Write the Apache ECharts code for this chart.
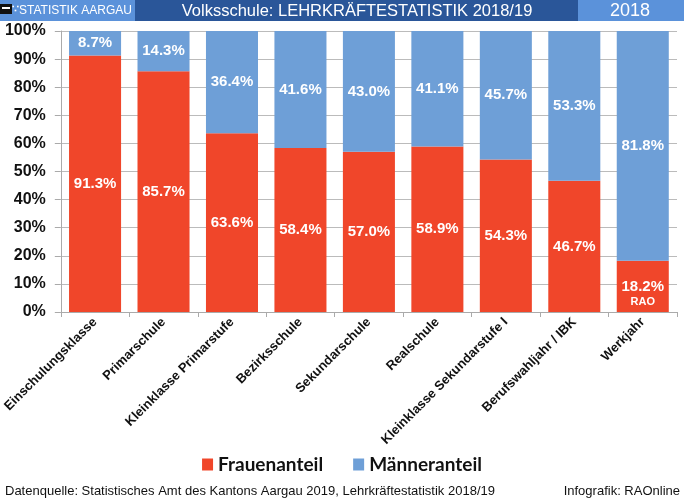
<!DOCTYPE html>
<html><head><meta charset="utf-8">
<script src="https://cdn.jsdelivr.net/npm/echarts@6/dist/echarts.min.js"></script>
<style>html,body{margin:0;padding:0;background:#fff}#c{width:684px;height:503px}</style>
</head><body><div id="c"></div>
<script>
const categories = ['Einschulungsklasse','Primarschule','Kleinklasse Primarstufe','Bezirksschule','Sekundarschule','Realschule','Kleinklasse Sekundarstufe I','Berufswahljahr / IBK','Werkjahr'];
const frauen = [91.3, 85.7, 63.6, 58.4, 57.0, 58.9, 54.3, 46.7, 18.2];
const maenner = [8.7, 14.3, 36.4, 41.6, 43.0, 41.1, 45.7, 53.3, 81.8];
const yTicks = [0,10,20,30,40,50,60,70,80,90,100];

const RED = '#F0462A', BLUE = '#6E9FD7';
const lbl = {show:true, position:'inside', color:'#fff', fontFamily:'Liberation Sans, Arial', fontWeight:'bold', fontSize:15, formatter: p => p.value.toFixed(1) + '%'};

const frauenData = frauen.map((v,i) => i === frauen.length-1 ? {
  value: v,
  label: {lineHeight:17,
    formatter: p => '{e| }\n' + p.value.toFixed(1) + '%\n{r|RAO}',
    rich: {
      e:{fontSize:11, lineHeight:15},
      r:{fontSize:11, fontWeight:'bold', color:'#fff', fontFamily:'Liberation Sans, Arial', lineHeight:15}}}
} : v);

const chart = echarts.init(document.getElementById('c'), null, {renderer:'canvas'});
chart.setOption({
  animation:false,
  grid:{left:60, right:7, top:31, bottom:191},
  graphic:[
    {type:'rect', shape:{x:0,y:0,width:684,height:21}, style:{fill:'#2A5699'}},
    {type:'rect', shape:{x:0,y:0,width:135,height:21}, style:{fill:'#5B92DA'}},
    {type:'rect', shape:{x:578,y:0,width:106,height:21}, style:{fill:'#5B92DA'}},
    {type:'rect', shape:{x:0,y:4,width:12,height:10}, style:{fill:'#111'}},
    {type:'rect', shape:{x:2,y:7,width:8,height:2}, style:{fill:'#fff'}},
    {type:'text', style:{text:'∵', x:12, y:10, verticalAlign:'middle', fill:'#fff', font:'bold 11px Liberation Sans'}},
    {type:'text', style:{text:'STATISTIK AARGAU', x:19, y:11, verticalAlign:'middle', fill:'#fff', font:'12px Liberation Sans'}},
    {type:'text', style:{text:'Volksschule: LEHRKRÄFTESTATISTIK 2018/19', x:357, y:11, align:'center', verticalAlign:'middle', fill:'#fff', font:'16.5px Liberation Sans'}},
    {type:'text', style:{text:'2018', x:630, y:11, align:'center', verticalAlign:'middle', fill:'#fff', font:'18px Liberation Sans'}},
    {type:'text', style:{text:'Datenquelle: Statistisches Amt des Kantons Aargau 2019, Lehrkräftestatistik 2018/19', x:5, y:491, verticalAlign:'middle', fill:'#111', font:'13px Liberation Sans'}},
    {type:'text', style:{text:'Infografik: RAOnline', x:680, y:491, align:'right', verticalAlign:'middle', fill:'#111', font:'13px Liberation Sans'}}
  ],
  legend:{
    data:['Frauenanteil','Männeranteil'], bottom:24, left:'center', itemWidth:11, itemHeight:12, itemGap:30,
    icon:'rect',
    textStyle:{fontFamily:'Lato, Open Sans, sans-serif', fontWeight:'bold', fontSize:19, color:'#111'}
  },
  xAxis:{
    type:'category', data:categories,
    axisLine:{lineStyle:{color:'#aaa'}},
    axisTick:{show:true, alignWithLabel:false, length:5, lineStyle:{color:'#aaa'}},
    axisLabel:{rotate:45, interval:0, color:'#111', fontFamily:'Liberation Sans', fontWeight:'bold', fontSize:13, margin:8}
  },
  yAxis:{
    type:'value', min:0, max:100, interval:10,
    axisLine:{show:true, lineStyle:{color:'#aaa'}},
    axisTick:{show:true, length:6, lineStyle:{color:'#aaa'}},
    splitLine:{lineStyle:{color:'#bbb'}},
    axisLabel:{color:'#111', fontFamily:'Liberation Sans, Arial', fontWeight:'bold', fontSize:16, margin:15,
      formatter: v => yTicks.includes(v) ? v + '%' : ''}
  },
  series:[
    {name:'Frauenanteil', type:'bar', stack:'a', data:frauenData, barCategoryGap:'24%', itemStyle:{color:RED}, label:lbl},
    {name:'Männeranteil', type:'bar', stack:'a', data:maenner, itemStyle:{color:BLUE}, label:lbl}
  ]
});
</script></body></html>
